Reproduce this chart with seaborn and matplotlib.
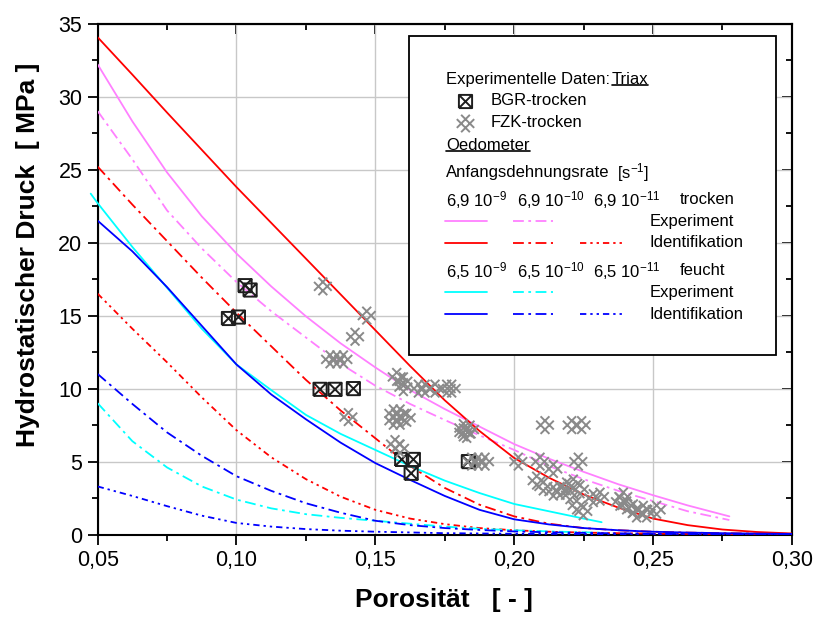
import matplotlib
matplotlib.use("Agg")
import matplotlib.pyplot as plt
from matplotlib.path import Path
from matplotlib.lines import Line2D
from matplotlib.patches import Rectangle
from matplotlib.ticker import FuncFormatter, MultipleLocator
import numpy as np
import seaborn as sns

# ---------------------------------------------------------------- data
# porosity grid of the identification curves (full range)
phi_full = [0.05, 0.0625, 0.075, 0.0875, 0.10, 0.1125, 0.125, 0.1375, 0.15, 0.1625,
            0.175, 0.1875, 0.20, 0.2125, 0.225, 0.2375, 0.25, 0.2625, 0.275, 0.2875, 0.30]

# trocken, Identifikation (MPa)
p_tr_id_9 = [34.06, 31.5, 28.9, 26.35, 23.8, 21.35, 18.9, 16.45, 14.0, 11.55,
             9.2, 7.1, 5.25, 3.9, 2.75, 1.85, 1.1, 0.65, 0.35, 0.18, 0.08]
p_tr_id_10 = [25.2, 22.6, 20.1, 17.6, 15.2, 12.9, 10.6, 8.5, 6.6, 4.7,
              3.2, 2.05, 1.25, 0.75, 0.45, 0.3, 0.2, 0.14, 0.1, 0.07, 0.05]
p_tr_id_11 = [16.5, 14.1, 11.8, 9.4, 7.15, 5.3, 3.8, 2.6, 1.7, 1.1,
              0.72, 0.45, 0.3, 0.2, 0.14, 0.1, 0.07, 0.05, 0.04, 0.03, 0.02]

# feucht, Identifikation (MPa)
p_fe_id_9 = [21.5, 19.4, 16.95, 14.3, 11.65, 9.6, 7.9, 6.3, 4.9, 3.75,
             2.65, 1.7, 1.05, 0.7, 0.45, 0.3, 0.2, 0.14, 0.1, 0.07, 0.05]
p_fe_id_10 = [11.0, 8.95, 7.0, 5.4, 4.0, 3.0, 2.15, 1.5, 0.95, 0.65,
              0.45, 0.32, 0.22, 0.16, 0.12, 0.09, 0.07, 0.05, 0.04, 0.03, 0.02]
p_fe_id_11 = [3.3, 2.65, 1.95, 1.3, 0.8, 0.55, 0.38, 0.27, 0.2, 0.15,
              0.1, 0.08, 0.06, 0.05, 0.04, 0.03, 0.03, 0.02, 0.02, 0.01, 0.01]

# trocken, Experiment
phi_tr_exp = [0.05, 0.0625, 0.075, 0.0875, 0.10, 0.1125, 0.125, 0.1375, 0.15, 0.1625,
              0.175, 0.1875, 0.20, 0.2125, 0.225, 0.2375, 0.25, 0.2625, 0.2775]
p_tr_exp_9 = [32.2, 28.3, 24.8, 21.8, 19.25, 17.0, 14.95, 13.1, 11.45, 9.9,
              8.6, 7.4, 6.2, 5.2, 4.3, 3.45, 2.7, 2.0, 1.25]
p_tr_exp_10 = [29.0, 25.7, 22.2, 19.6, 17.3, 15.3, 13.5, 11.7, 10.2, 8.95,
               7.85, 6.8, 5.8, 4.7, 3.8, 3.0, 2.3, 1.6, 1.0]

# feucht, Experiment
phi_fe_exp_9 = [0.0475, 0.05, 0.0625, 0.075, 0.0875, 0.10, 0.1125, 0.125, 0.1375, 0.15,
                0.1625, 0.175, 0.1875, 0.20, 0.2125, 0.225, 0.2315]
p_fe_exp_9 = [23.35, 22.7, 19.7, 16.9, 14.1, 11.65, 9.9, 8.2, 6.9, 5.8,
              4.7, 3.7, 2.85, 2.1, 1.6, 1.1, 0.85]
phi_fe_exp_10 = [0.05, 0.0625, 0.075, 0.0875, 0.10, 0.1125, 0.125, 0.1375, 0.15, 0.1625,
                 0.175, 0.1875, 0.20, 0.2125, 0.225, 0.2315]
p_fe_exp_10 = [9.0, 6.4, 4.6, 3.3, 2.4, 1.8, 1.4, 1.15, 0.95, 0.75,
               0.55, 0.4, 0.3, 0.22, 0.16, 0.13]

# Triax, BGR-trocken
bgr_phi = [0.0971, 0.1007, 0.1031, 0.1049, 0.1301, 0.1355, 0.1421, 0.1595, 0.1637, 0.1629, 0.1835]
bgr_p = [14.8, 14.9, 17.05, 16.75, 9.95, 9.95, 10.0, 5.15, 5.15, 4.2, 5.0]

# Triax, FZK-trocken
fzk_phi = [0.1311, 0.1469, 0.1427, 0.1337, 0.1361, 0.1385, 0.1403,
           0.1577, 0.1601, 0.1601, 0.1655, 0.1679, 0.1715, 0.1757, 0.1775,
           0.1565, 0.1589, 0.1565, 0.1589, 0.1613, 0.1571, 0.1589,
           0.1817, 0.1841, 0.1829, 0.1817, 0.1847, 0.1871, 0.1895,
           0.2015, 0.2093, 0.2231, 0.2111, 0.2207, 0.2243,
           0.2141, 0.2081, 0.2105, 0.2141, 0.2189, 0.2213, 0.2201, 0.2225, 0.2249,
           0.2285, 0.2309, 0.2381, 0.2405, 0.2429, 0.2465, 0.2513, 0.2441, 0.2477,
           0.2393, 0.2165, 0.2237]
fzk_p = [17.0, 15.0, 13.55, 12.0, 12.0, 12.0, 8.05,
         10.8, 10.1, 10.5, 10.0, 10.0, 10.0, 10.0, 10.0,
         8.3, 8.3, 7.8, 7.8, 8.0, 6.2, 5.9,
         7.3, 7.2, 6.9, 7.0, 5.0, 5.0, 5.0,
         5.0, 5.0, 5.0, 7.5, 7.5, 7.5,
         4.5, 3.7, 3.3, 2.95, 3.3, 3.5, 2.7, 2.0, 1.6,
         2.5, 2.6, 2.25, 2.0, 1.8, 1.7, 1.7, 1.45, 1.45,
         2.6, 3.0, 3.1]

x_ticks = [0.05, 0.10, 0.15, 0.20, 0.25, 0.30]
y_ticks = [0, 5, 10, 15, 20, 25, 30, 35]

# ---------------------------------------------------------------- style
sns.set_theme(style="ticks")
plt.rcParams["font.family"] = ["Liberation Sans", "DejaVu Sans"]
plt.rcParams["mathtext.default"] = "regular"
plt.rcParams["text.color"] = "black"
plt.rcParams["axes.labelcolor"] = "black"

PINK = "#ff80ff"
RED = "#ff0000"
CYAN = "#00ffff"
BLUE = "#0000ff"
GREY = "#8a8a8a"
DARK = "#1e1e1e"

SOLID = "-"
DASHDOT = (0, (6, 2.5, 1.5, 2.5))
DASHDOTDOT = (0, (3.5, 2.2, 1.3, 2.2, 1.3, 2.2))

# square with a cross inside
box_x = Path([(-1, -1), (1, -1), (1, 1), (-1, 1), (-1, -1),
              (-1, -1), (1, 1), (-1, 1), (1, -1)],
             [Path.MOVETO, Path.LINETO, Path.LINETO, Path.LINETO, Path.LINETO,
              Path.MOVETO, Path.LINETO, Path.MOVETO, Path.LINETO])

# hash sign turned by 45 degrees
a = 0.33
segs = [((-a, -1), (-a, 1)), ((a, -1), (a, 1)), ((-1, -a), (1, -a)), ((-1, a), (1, a))]
verts, codes = [], []
for (x0, y0), (x1, y1) in segs:
    for (x, y), c in (((x0, y0), Path.MOVETO), ((x1, y1), Path.LINETO)):
        verts.append(((x - y) / np.sqrt(2), (x + y) / np.sqrt(2)))
        codes.append(c)
hash_rot = Path(verts, codes)

fig = plt.figure(figsize=(8.15, 6.17), dpi=100)
ax = fig.add_axes([0.1198, 0.1335, 0.8518, 0.8284])

curves = [
    (phi_tr_exp, p_tr_exp_9, PINK, SOLID, True),
    (phi_tr_exp, p_tr_exp_10, PINK, DASHDOT, True),
    (phi_full, p_tr_id_9, RED, SOLID, True),
    (phi_full, p_tr_id_10, RED, DASHDOT, True),
    (phi_full, p_tr_id_11, RED, DASHDOTDOT, True),
    (phi_fe_exp_9, p_fe_exp_9, CYAN, SOLID, False),
    (phi_fe_exp_10, p_fe_exp_10, CYAN, DASHDOT, True),
    (phi_full, p_fe_id_9, BLUE, SOLID, True),
    (phi_full, p_fe_id_10, BLUE, DASHDOT, True),
    (phi_full, p_fe_id_11, BLUE, DASHDOTDOT, True),
]
for xs, ys, col, ls, clip in curves:
    sns.lineplot(x=xs, y=ys, ax=ax, color=col, linestyle=ls, linewidth=1.3,
                 estimator=None, sort=False, clip_on=clip, zorder=3)

sns.scatterplot(x=bgr_phi, y=bgr_p, ax=ax, marker=box_x, s=90,
                color=DARK, facecolor="none", edgecolor=DARK, linewidth=1.4, zorder=4)
sns.scatterplot(x=fzk_phi, y=fzk_p, ax=ax, marker=hash_rot, s=160,
                color=GREY, facecolor="none", edgecolor=GREY, linewidth=1.4, zorder=5)

# ---------------------------------------------------------------- axes
ax.set_xlim(0.05, 0.30)
ax.set_ylim(0, 35)
ax.set_xticks(x_ticks)
ax.set_yticks(y_ticks)
ax.xaxis.set_minor_locator(MultipleLocator(0.025))
ax.yaxis.set_minor_locator(MultipleLocator(2.5))
ax.xaxis.set_major_formatter(FuncFormatter(lambda v, p: f"{v:.2f}".replace(".", ",")))
ax.yaxis.set_major_formatter(FuncFormatter(lambda v, p: f"{v:.0f}"))
ax.grid(True, which="major", color="#c8c8c8", linewidth=1.0)
ax.set_axisbelow(True)
for s in ax.spines.values():
    s.set_linewidth(1.5)
    s.set_color("black")
ax.tick_params(which="major", direction="out", length=7, width=1.3, labelsize=15.5,
               colors="black", pad=4)
ax.tick_params(which="minor", direction="out", length=4, width=1.3, colors="black")

secx = ax.secondary_xaxis("top")
secx.set_xticks(x_ticks)
secx.xaxis.set_minor_locator(MultipleLocator(0.025))
secx.tick_params(which="major", direction="in", length=7, width=1.3, labeltop=False,
                 colors="black")
secx.tick_params(which="minor", direction="in", length=4, width=1.3, colors="black")
secx.spines["top"].set_linewidth(1.5)
secy = ax.secondary_yaxis("right")
secy.set_yticks(y_ticks)
secy.yaxis.set_minor_locator(MultipleLocator(2.5))
secy.tick_params(which="major", direction="in", length=7, width=1.3, labelright=False,
                 colors="black")
secy.tick_params(which="minor", direction="in", length=4, width=1.3, colors="black")
secy.spines["right"].set_linewidth(1.5)

ax.set_xlabel("Porosität   [ - ]", fontsize=19, fontweight="bold")
ax.set_ylabel("Hydrostatischer Druck  [ MPa ]", fontsize=19, fontweight="bold")
ax.xaxis.set_label_coords(0.499, -0.104)
ax.yaxis.set_label_coords(-0.083, 0.547)

# ---------------------------------------------------------------- key box
T = ax.transAxes
ax.add_patch(Rectangle((0.4486, 0.3514), 0.9772 - 0.4486, 0.9755 - 0.3514,
                       transform=T, facecolor="white", edgecolor="black",
                       linewidth=1.3, zorder=10))
fs = 12
kw = dict(transform=T, fontsize=fs, va="center", ha="left", zorder=11, color="black")
ax.text(0.5019, 0.8895, "Experimentelle Daten:", **kw)
t_triax = ax.text(0.7405, 0.8895, "Triax", **kw)
ax.plot([0.5292], [0.849], transform=T, marker=box_x, markersize=9.5, mfc="none",
        mec=DARK, mew=1.4, linestyle="none", zorder=11, clip_on=False)
ax.text(0.5663, 0.849, "BGR-trocken", **kw)
ax.plot([0.5292], [0.8059], transform=T, marker=hash_rot, markersize=12.5, mfc="none",
        mec=GREY, mew=1.4, linestyle="none", zorder=11, clip_on=False)
ax.text(0.5663, 0.8059, "FZK-trocken", **kw)
t_oedo = ax.text(0.5019, 0.7623, "Oedometer", **kw)
ax.text(0.5019, 0.7089, "Anfangsdehnungsrate", **kw)
ax.text(0.7478, 0.7089, "[s$^{-1}$]", **kw)

col_x = [0.5019, 0.6037, 0.7141]
rows = [("6,9", "trocken", PINK, RED, 0.6547, 0.6136, 0.5711),
        ("6,5", "feucht", CYAN, BLUE, 0.5163, 0.4741, 0.4316)]
seg_x = [(0.5004, 0.5614), (0.5988, 0.6564), (0.6949, 0.7564)]
for mant, state, c_exp, c_id, y_hdr, y_exp, y_id in rows:
    for cx, ex in zip(col_x, ["-9", "-10", "-11"]):
        ax.text(cx, y_hdr, f"{mant} 10$^{{{ex}}}$", **kw)
    ax.text(0.838, y_hdr, state, **kw)
    for (x0, x1), ls in zip(seg_x[:2], [SOLID, DASHDOT]):
        ax.plot([x0, x1], [y_exp, y_exp], transform=T, color=c_exp, linestyle=ls,
                linewidth=1.3, zorder=11)
    ax.text(0.7947, y_exp, "Experiment", **kw)
    for (x0, x1), ls in zip(seg_x, [SOLID, DASHDOT, DASHDOTDOT]):
        ax.plot([x0, x1], [y_id, y_id], transform=T, color=c_id, linestyle=ls,
                linewidth=1.3, zorder=11)
    ax.text(0.7947, y_id, "Identifikation", **kw)

# underline the two headings
fig.canvas.draw()
r = fig.canvas.get_renderer()
inv = fig.transFigure.inverted()
for t in (t_triax, t_oedo):
    bb = t.get_window_extent(r)
    (x0, y0), (x1, _) = inv.transform([(bb.x0, bb.y0 + 2), (bb.x1, bb.y0 + 2)])
    fig.add_artist(Line2D([x0, x1], [y0, y0], transform=fig.transFigure,
                          color="black", linewidth=1.2, zorder=12))

fig.savefig("out.png", dpi=100)
